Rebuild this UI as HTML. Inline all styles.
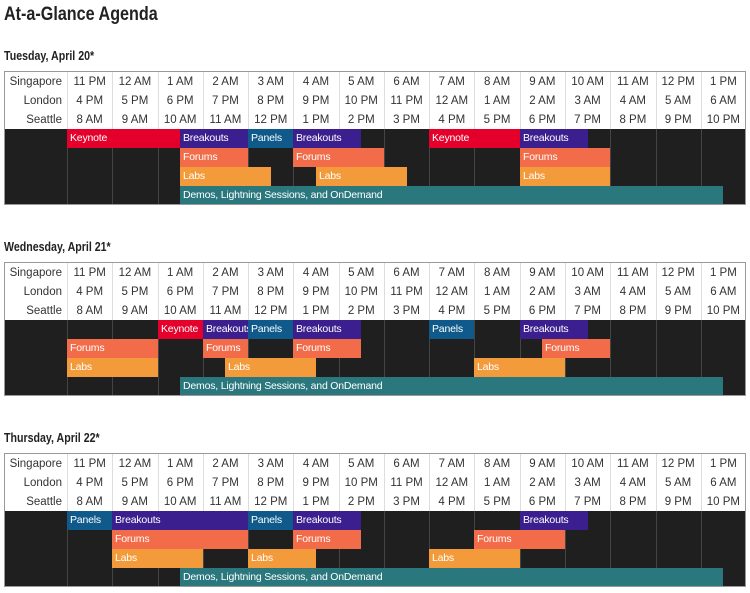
<!DOCTYPE html>
<html><head><meta charset="utf-8"><style>
body{margin:0;width:750px;height:593px;background:#fff;position:relative;font-family:"Liberation Sans",sans-serif;overflow:hidden}
.t{position:absolute;font-weight:bold;color:#222;white-space:nowrap;transform-origin:left top}
.tbl{position:absolute;left:4px;width:742px;border:1px solid #999;box-sizing:border-box;background:#fff}
.c{position:absolute;font-size:11.5px;color:#333;text-align:center;line-height:19px}
.vl{position:absolute;width:1px;background:#ddd}
.dark{position:absolute;background:#1f1f1f}
.dl{position:absolute;width:1px;background:#444}
.bar{position:absolute;height:19px;color:#fff;font-size:10.5px;line-height:19px;padding-left:3px;box-sizing:border-box;white-space:nowrap;overflow:hidden;letter-spacing:-0.2px}
</style></head><body>
<div class="t" style="left:4px;top:4px;font-size:19px;transform:scaleX(0.85)">At-a-Glance Agenda</div>
<div class="t" style="left:4px;top:49px;font-size:12.5px;transform:scaleX(0.85)">Tuesday, April 20*</div>
<div class="t" style="left:4px;top:240px;font-size:12.5px;transform:scaleX(0.85)">Wednesday, April 21*</div>
<div class="t" style="left:4px;top:431px;font-size:12.5px;transform:scaleX(0.85)">Thursday, April 22*</div>
<div id="root"></div>
<script>
var sg=["11 PM","12 AM","1 AM","2 AM","3 AM","4 AM","5 AM","6 AM","7 AM","8 AM","9 AM","10 AM","11 AM","12 PM","1 PM"];
var ld=["4 PM","5 PM","6 PM","7 PM","8 PM","9 PM","10 PM","11 PM","12 AM","1 AM","2 AM","3 AM","4 AM","5 AM","6 AM"];
var se=["8 AM","9 AM","10 AM","11 AM","12 PM","1 PM","2 PM","3 PM","4 PM","5 PM","6 PM","7 PM","8 PM","9 PM","10 PM"];
var C={K:["#e4002b","Keynote"],B:["#3b1f8e","Breakouts"],P:["#0f5a8a","Panels"],F:["#f26c4a","Forums"],L:["#f39b3b","Labs"],D:["#2a787e","Demos, Lightning Sessions, and OnDemand"]};
var days=[
{y:72,bars:[[0,"K",0,5],[0,"B",5,8],[0,"P",8,10],[0,"B",10,13],[0,"K",16,20],[0,"B",20,23],
[1,"F",5,8],[1,"F",10,14],[1,"F",20,24],[2,"L",5,9],[2,"L",11,15],[2,"L",20,24],[3,"D",5,29]]},
{y:263,bars:[[0,"K",4,6],[0,"B",6,8],[0,"P",8,10],[0,"B",10,13],[0,"P",16,18],[0,"B",20,23],
[1,"F",0,4],[1,"F",6,8],[1,"F",10,13],[1,"F",21,24],[2,"L",0,4],[2,"L",7,11],[2,"L",18,22],[3,"D",5,29]]},
{y:454,bars:[[0,"P",0,2],[0,"B",2,8],[0,"P",8,10],[0,"B",10,13],[0,"B",20,23],
[1,"F",2,8],[1,"F",10,13],[1,"F",18,22],[2,"L",2,6],[2,"L",8,11],[2,"L",16,20],[3,"D",5,29]]}];
var h="",X0=67,W=45.27;
days.forEach(function(d){
 var y=d.y;
 h+='<div class="tbl" style="top:'+(y-1)+'px;height:'+134+'px"></div>';
 ["Singapore","London","Seattle"].forEach(function(n,r){
  h+='<div class="c" style="left:5px;width:57px;text-align:right;top:'+(y+1+r*19)+'px">'+n+'</div>';
  [sg,ld,se][r].forEach(function(v,i){h+='<div class="c" style="left:'+(X0+i*W)+'px;width:'+W+'px;top:'+(y+1+r*19)+'px">'+v+'</div>';});
 });
 for(var i=0;i<15;i++)h+='<div class="vl" style="left:'+Math.round(X0+i*W)+'px;top:'+y+'px;height:57px"></div>';
 h+='<div class="dark" style="left:5px;width:740px;top:'+(y+57)+'px;height:75px"></div>';
 for(var i=0;i<15;i++)h+='<div class="dl" style="left:'+Math.round(X0+i*W)+'px;top:'+(y+57)+'px;height:75px"></div>';
 d.bars.forEach(function(b){
  var x1=Math.round(X0+b[2]*W/2),x2=Math.round(X0+b[3]*W/2);
  h+='<div class="bar" style="left:'+x1+'px;width:'+(x2-x1)+'px;top:'+(y+57+b[0]*19)+'px;background:'+C[b[1]][0]+(b[0]==3?';height:18px':'')+'">'+C[b[1]][1]+'</div>';
 });
});
document.getElementById("root").innerHTML=h;
</script>
</body></html>
